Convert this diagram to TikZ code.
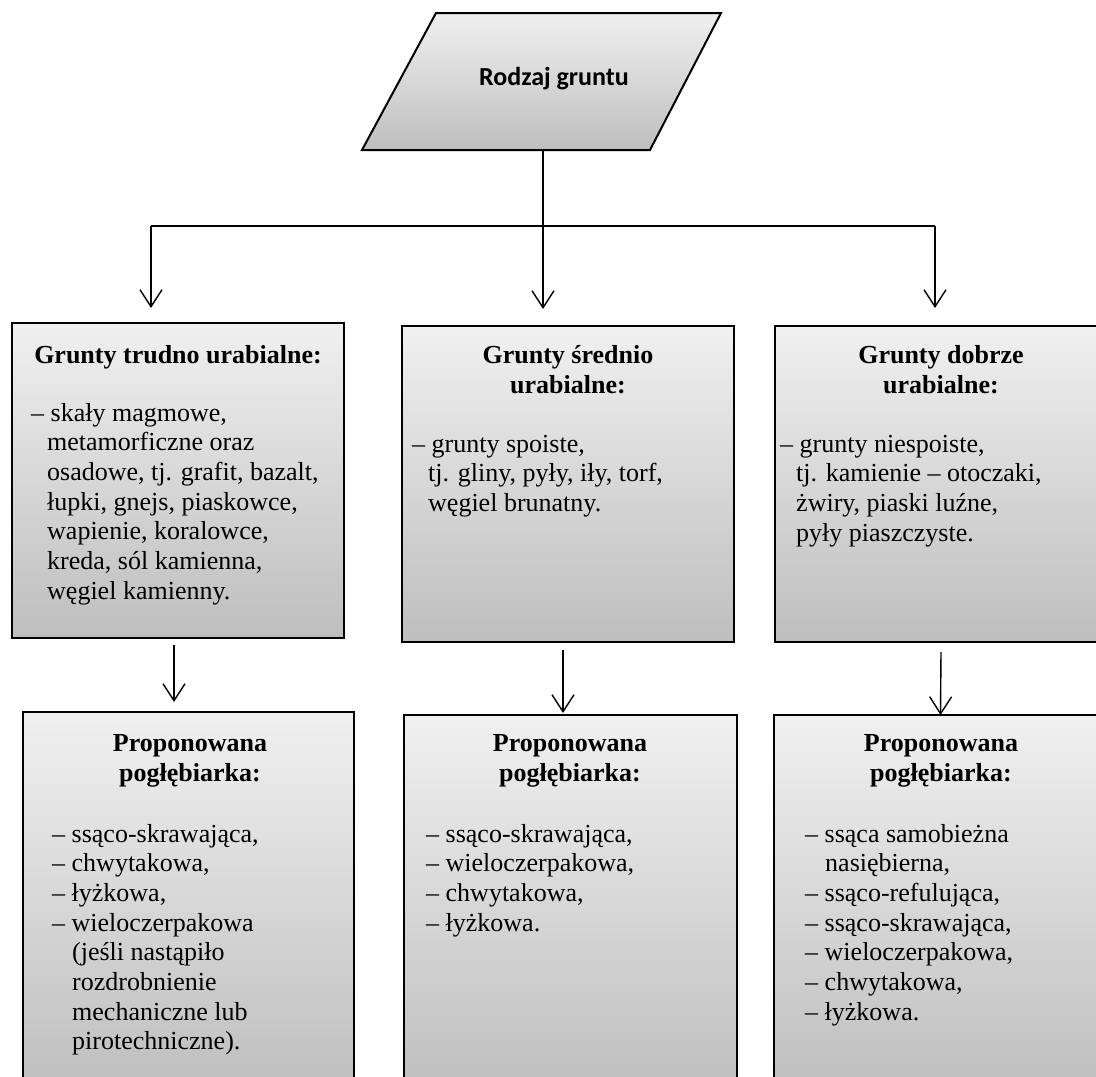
\documentclass[tikz,border=0pt]{standalone}
\usepackage{fontspec}
\setmainfont{Liberation Serif}
\newfontfamily\titlefont{Carlito}
\usetikzlibrary{arrows.meta,calc}
\definecolor{shadetop}{RGB}{240,240,240}
\definecolor{shadebot}{RGB}{190,190,190}
\newcommand\contind{\hspace*{16pt}}
\newcommand\itemind{\hspace*{20pt}}
\begin{document}
% multi-line text nodes are anchored at the baseline of their last line
\begin{tikzpicture}[x=1pt,y=-1pt,
  box/.style={draw=black, line width=2.2pt, top color=shadetop, bottom color=shadebot,
    rectangle, inner sep=0pt, outer sep=0pt, anchor=north west},
  conn/.style={line width=1.4pt},
  arr/.style={conn, -{Straight Barb[length=17pt,width=22pt,line width=1.4pt]}},
  head/.style={font=\bfseries\fontsize{26}{30}\selectfont, align=center, anchor=base, inner sep=0pt},
  list/.style={font=\fontsize{26}{29.7}\selectfont, align=left, anchor=base west, inner sep=0pt},
]
\useasboundingbox (0,0) rectangle (1096,1077);
\fill[white] (0,0) rectangle (1096,1077);
\clip (0,0) rectangle (1096,1077);

% decision shape at the top
\shade[draw=black, line width=2pt, top color=shadetop, bottom color=shadebot, line join=miter]
  (436,13) -- (721,13) -- (650,150) -- (362,150) -- cycle;
\node[font=\titlefont\bfseries\fontsize{26}{30}\selectfont, anchor=base, inner sep=0pt]
  (rodzaj) at (554,85) {Rodzaj gruntu};
\coordinate (pbot) at (543,150);

% soil classes
\node[box, minimum width=332pt, minimum height=315pt] (tl) at (12,323) {};
\node[box, minimum width=332pt, minimum height=316pt] (tm) at (402,326) {};
\node[box, minimum width=332pt, minimum height=316pt] (tr) at (775,326) {};

% proposed dredgers
\node[box, minimum width=331pt, minimum height=380pt] (bl) at (23,712) {};
\node[box, minimum width=333pt, minimum height=380pt] (bm) at (404,715) {};
\node[box, minimum width=333pt, minimum height=380pt] (br) at (774,715) {};

% branching connectors
\coordinate (jl) at (151,226);
\coordinate (jr) at (935,226);
\draw[conn] (jl) -- (jr);
\draw[arr, shorten >=17pt] (pbot) -- (pbot |- tm.north);
\draw[arr, shorten >=15pt] (jl) -- (jl |- tl.north);
\draw[arr, shorten >=18pt] (jr) -- (jr |- tr.north);

\draw[arr] ($(tl.south)+(-4,7)$) -- ($(bl.north)+(-14.5,-10)$);
\draw[arr] ($(tm.south)+(-5,8)$) -- ($(bm.north)+(-7.5,-2)$);
\draw[arr] ($(tr.south)+(0,10)$) -- (br.north);

% texts of the soil classes
\node[head] (tlh) at (178,363) {Grunty trudno urabialne:};
\node[list] (tll) at (31,599.2) {– skały magmowe,\\
  \contind metamorficzne oraz\\
  \contind osadowe, tj. grafit, bazalt,\\
  \contind łupki, gnejs, piaskowce,\\
  \contind wapienie, koralowce,\\
  \contind kreda, sól kamienna,\\
  \contind węgiel kamienny.};

\node[head] (tmh) at (568,393) {Grunty średnio\\urabialne:};
\node[list] (tml) at (412,511.4) {– grunty spoiste,\\
  \contind tj. gliny, pyły, iły, torf,\\
  \contind węgiel brunatny.};

\node[head] (trh) at (941,393) {Grunty dobrze\\urabialne:};
\node[list] (trl) at (780,541.1) {– grunty niespoiste,\\
  \contind tj. kamienie – otoczaki,\\
  \contind żwiry, piaski luźne,\\
  \contind pyły piaszczyste.};

% texts of the proposed dredgers
\node[head] (blh) at (190,781) {Proponowana\\pogłębiarka:};
\node[list] (bll) at (52,1049.9) {– ssąco-skrawająca,\\
  – chwytakowa,\\
  – łyżkowa,\\
  – wieloczerpakowa\\
  \itemind(jeśli nastąpiło\\
  \itemind rozdrobnienie\\
  \itemind mechaniczne lub\\
  \itemind pirotechniczne).};

\node[head] (bmh) at (570,781) {Proponowana\\pogłębiarka:};
\node[list] (bml) at (426,931.1) {– ssąco-skrawająca,\\
  – wieloczerpakowa,\\
  – chwytakowa,\\
  – łyżkowa.};

\node[head] (brh) at (941,781) {Proponowana\\pogłębiarka:};
\node[list] (brl) at (805,1020.2) {– ssąca samobieżna\\
  \itemind nasiębierna,\\
  – ssąco-refulująca,\\
  – ssąco-skrawająca,\\
  – wieloczerpakowa,\\
  – chwytakowa,\\
  – łyżkowa.};
\end{tikzpicture}
\end{document}
